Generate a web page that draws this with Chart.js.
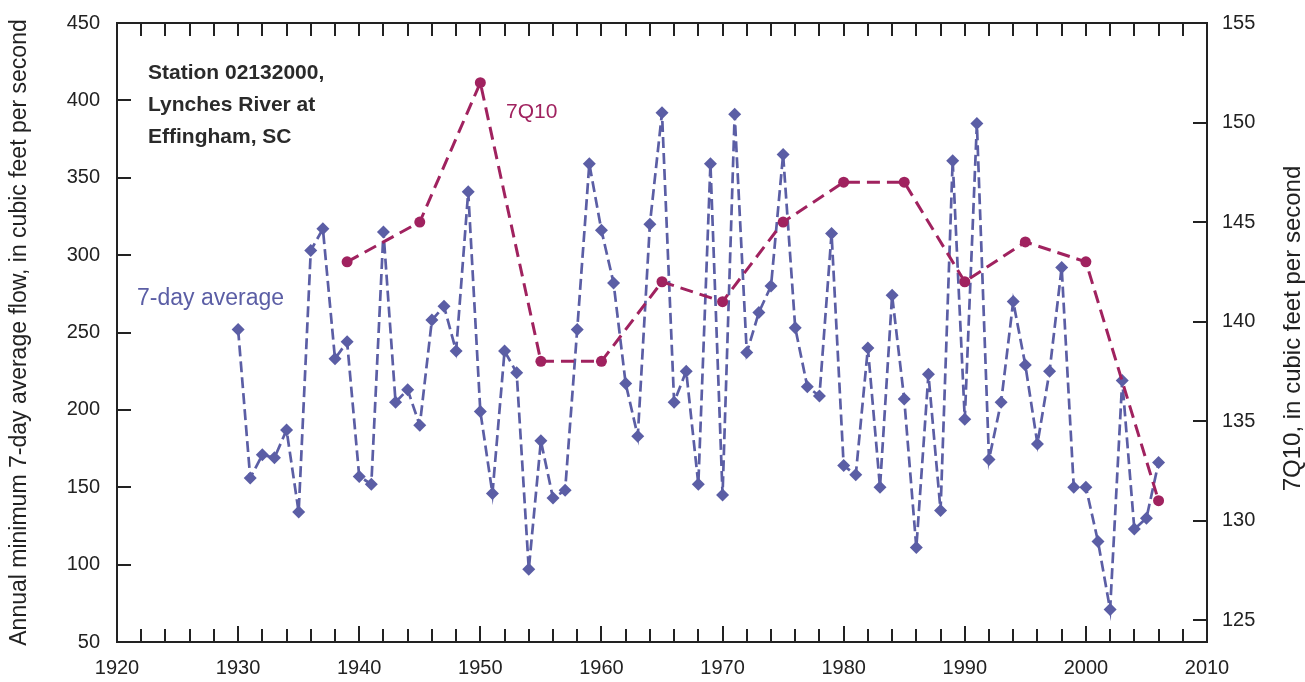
<!DOCTYPE html>
<html lang="en">
<head>
    <meta charset="UTF-8">
    <title>Lynches River at Effingham, SC - 7-day low flow and 7Q10</title>
    <script src="https://cdn.jsdelivr.net/npm/chart.js"></script>
    <style>
        body {
            margin: 0;
            padding: 0;
            background: #ffffff;
        }
        #wrap {
            width: 1305px;
            height: 682px;
        }
    </style>
</head>
<body>
    <div id="wrap">
        <canvas id="flowChart" width="1305" height="682"></canvas>
    </div>

    <script>
        // annual minimum 7-day average flow (left axis, cfs)
        const years7day = [1930, 1931, 1932, 1933, 1934, 1935, 1936, 1937, 1938, 1939,
            1940, 1941, 1942, 1943, 1944, 1945, 1946, 1947, 1948, 1949,
            1950, 1951, 1952, 1953, 1954, 1955, 1956, 1957, 1958, 1959,
            1960, 1961, 1962, 1963, 1964, 1965, 1966, 1967, 1968, 1969,
            1970, 1971, 1972, 1973, 1974, 1975, 1976, 1977, 1978, 1979,
            1980, 1981, 1982, 1983, 1984, 1985, 1986, 1987, 1988, 1989,
            1990, 1991, 1992, 1993, 1994, 1995, 1996, 1997, 1998, 1999,
            2000, 2001, 2002, 2003, 2004, 2005, 2006];
        const flow7day = [252, 156, 171, 169, 187, 134, 303, 317, 233, 244,
            157, 152, 315, 205, 213, 190, 258, 267, 238, 341,
            199, 146, 238, 224, 97, 180, 143, 148, 252, 359,
            316, 282, 217, 183, 320, 392, 205, 225, 152, 359,
            145, 391, 237, 263, 280, 365, 253, 215, 209, 314,
            164, 158, 240, 150, 274, 207, 111, 223, 135, 361,
            194, 385, 168, 205, 270, 229, 178, 225, 292, 150,
            150, 115, 71, 219, 123, 130, 166];

        // 7Q10 (right axis, cfs)
        const years7q10 = [1939, 1945, 1950, 1955, 1960, 1965, 1970, 1975, 1980, 1985, 1990, 1995, 2000, 2006];
        const flow7q10 = [143, 145, 152, 138, 138, 142, 141, 145, 147, 147, 142, 144, 143, 131];

        // tick labels
        const xTicks = [1920, 1930, 1940, 1950, 1960, 1970, 1980, 1990, 2000, 2010];
        const leftTicks = [50, 100, 150, 200, 250, 300, 350, 400, 450];
        const rightTicks = [125, 130, 135, 140, 145, 150, 155];

        const BLUE = '#5b5ea5';
        const RED = '#a0225f';
        const INK = '#222222';
        const FONT = '"Liberation Sans", Arial, sans-serif';

        // inward ticks, frame, axis titles and notes
        const decorations = {
            id: 'decorations',
            afterDraw(chart) {
                const ctx = chart.ctx;
                const area = chart.chartArea;
                const x = chart.scales.x;
                const yl = chart.scales.y;
                const yr = chart.scales.y2;

                ctx.save();
                ctx.strokeStyle = INK;
                ctx.lineWidth = 2;
                ctx.beginPath();
                // x ticks every 2 years, top and bottom
                for (let yr2 = 1922; yr2 < 2010; yr2 += 2) {
                    const px = Math.round(x.getPixelForValue(yr2));
                    const len = yr2 % 10 === 0 ? 16 : 13;
                    ctx.moveTo(px, area.bottom);
                    ctx.lineTo(px, area.bottom - len);
                    ctx.moveTo(px, area.top);
                    ctx.lineTo(px, area.top + 13);
                }
                leftTicks.forEach(v => {
                    const py = Math.round(yl.getPixelForValue(v));
                    ctx.moveTo(area.left, py);
                    ctx.lineTo(area.left + 14, py);
                });
                rightTicks.forEach(v => {
                    const py = Math.round(yr.getPixelForValue(v));
                    ctx.moveTo(area.right, py);
                    ctx.lineTo(area.right - 14, py);
                });
                ctx.stroke();
                ctx.strokeRect(area.left, area.top, area.right - area.left, area.bottom - area.top);

                // axis titles (both read bottom to top)
                const midY = (area.top + area.bottom) / 2;
                ctx.fillStyle = INK;
                ctx.textAlign = 'center';
                ctx.textBaseline = 'middle';
                ctx.font = '23px ' + FONT;
                ctx.save();
                ctx.translate(20, midY);
                ctx.rotate(-Math.PI / 2);
                ctx.fillText('Annual minimum 7-day average flow, in cubic feet per second', 0, 0);
                ctx.restore();
                ctx.font = '24px ' + FONT;
                ctx.save();
                ctx.translate(1293, midY - 4);
                ctx.rotate(-Math.PI / 2);
                ctx.fillText('7Q10, in cubic feet per second', 0, 0);
                ctx.restore();

                // station note
                ctx.textAlign = 'left';
                ctx.textBaseline = 'alphabetic';
                ctx.font = 'bold 21px ' + FONT;
                ctx.fillStyle = '#2a2a2a';
                ctx.fillText('Station 02132000,', 148, 79);
                ctx.fillText('Lynches River at', 148, 111);
                ctx.fillText('Effingham, SC', 148, 143);

                // series labels
                ctx.font = '23px ' + FONT;
                ctx.fillStyle = BLUE;
                ctx.fillText('7-day average', 137, 305);
                ctx.font = '21px ' + FONT;
                ctx.fillStyle = RED;
                ctx.fillText('7Q10', 506, 118);
                ctx.restore();
            }
        };

        const tickFont = { family: FONT, size: 20 };

        // fixed box sizes so the plot frame sits where the original one does
        function fitVertical(width) {
            return s => {
                s.width = width;
                s.paddingTop = 0;
                s.paddingBottom = 0;
            };
        }

        const ctx = document.getElementById('flowChart').getContext('2d');
        new Chart(ctx, {
            type: 'line',
            data: {
                datasets: [
                    {
                        label: '7Q10',
                        data: years7q10.map((yr, i) => ({ x: yr, y: flow7q10[i] })),
                        yAxisID: 'y2',
                        borderColor: RED,
                        backgroundColor: RED,
                        borderWidth: 3,
                        borderDash: [13, 7],
                        pointStyle: 'circle',
                        pointRadius: 5.5,
                        pointBorderWidth: 0,
                        tension: 0,
                        fill: false
                    },
                    {
                        label: '7-day average',
                        data: years7day.map((yr, i) => ({ x: yr, y: flow7day[i] })),
                        yAxisID: 'y',
                        borderColor: BLUE,
                        backgroundColor: BLUE,
                        borderWidth: 2.7,
                        borderDash: [11, 5],
                        pointStyle: 'rectRot',
                        pointRadius: 6.5,
                        pointBorderWidth: 0,
                        tension: 0,
                        fill: false
                    }
                ]
            },
            options: {
                responsive: false,
                animation: false,
                devicePixelRatio: 1,
                layout: { padding: { top: 23, left: 0, right: 0, bottom: 0 } },
                plugins: {
                    legend: { display: false },
                    tooltip: { enabled: false }
                },
                scales: {
                    x: {
                        type: 'linear',
                        position: 'bottom',
                        min: 1920,
                        max: 2010,
                        afterBuildTicks: s => { s.ticks = xTicks.map(v => ({ value: v })); },
                        afterFit: s => {
                            s.height = 40;
                            s.paddingLeft = 0;
                            s.paddingRight = 0;
                        },
                        grid: { display: false, drawTicks: false },
                        border: { display: false },
                        ticks: {
                            autoSkip: false,
                            maxRotation: 0,
                            padding: 14,
                            color: INK,
                            font: tickFont,
                            callback: v => String(v)
                        }
                    },
                    y: {
                        type: 'linear',
                        position: 'left',
                        min: 50,
                        max: 450,
                        afterBuildTicks: s => { s.ticks = leftTicks.map(v => ({ value: v })); },
                        afterFit: fitVertical(117),
                        grid: { display: false, drawTicks: false },
                        border: { display: false },
                        ticks: {
                            padding: 17,
                            color: INK,
                            font: tickFont,
                            callback: v => String(v)
                        }
                    },
                    y2: {
                        type: 'linear',
                        position: 'right',
                        min: 123.9,
                        max: 155,
                        afterBuildTicks: s => { s.ticks = rightTicks.map(v => ({ value: v })); },
                        afterFit: fitVertical(98),
                        grid: { display: false, drawTicks: false },
                        border: { display: false },
                        ticks: {
                            padding: 15,
                            color: INK,
                            font: tickFont,
                            callback: v => String(v)
                        }
                    }
                }
            },
            plugins: [decorations]
        });
    </script>
</body>
</html>
